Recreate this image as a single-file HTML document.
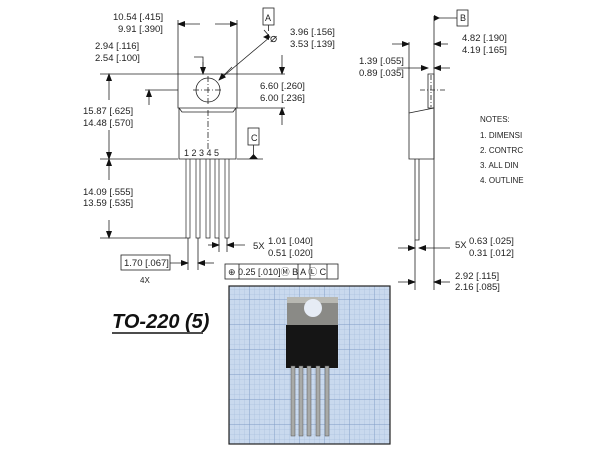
<!DOCTYPE html>
<html><head><style>
html,body{margin:0;padding:0;background:#fff}
svg{display:block}
text{font-family:"Liberation Sans",sans-serif;fill:#222}
</style></head><body>
<svg width="600" height="451" viewBox="0 0 600 451" xmlns="http://www.w3.org/2000/svg" font-size="9.5">
<defs>
<marker id="a" markerWidth="8" markerHeight="6" refX="7" refY="3" orient="auto" markerUnits="userSpaceOnUse"><path d="M0,0L8,3L0,6z" fill="#111"/></marker>
<pattern id="g" width="5" height="5" patternUnits="userSpaceOnUse"><path d="M5,0V5H0" fill="none" stroke="#9fb6d6" stroke-width="0.5"/></pattern>
<pattern id="G" width="25" height="25" patternUnits="userSpaceOnUse"><rect width="25" height="25" fill="url(#g)"/><path d="M25,0V25H0" fill="none" stroke="#7f9cc6" stroke-width="0.9"/></pattern>
</defs>
<g stroke="#222" stroke-width="0.8" fill="none">
<path d="M178,74H237V108H178Z"/>
<path d="M179,108L182,112H233L236,108M179,108V159H236V108"/>
<circle cx="208" cy="90" r="12"/>
<path d="M193,90H223M208,76V104M208,110V150" stroke-dasharray="6,2,1,2"/>
<g stroke-width="0.7">
<path d="M186,159V238H190V159M196,159V238H200V159M206,159V238H210V159M215,159V238H219V159M225,159V238H229V159"/>
</g>
<path d="M178,20V74M237,20V74"/>
<path d="M200,24H178" marker-end="url(#a)"/><path d="M215,24H237" marker-end="url(#a)"/>
<path d="M264,30L270,37L219,80" /><path d="M232,67L219,80" marker-end="url(#a)"/>
<path d="M194,57H203V72" /><path d="M203,62V74" marker-end="url(#a)"/>
<path d="M100,74H178M145,90H178M100,159H178M100,238H186M237,74H285M237,108H285M237,159H263"/>
<path d="M149,105V90" marker-end="url(#a)"/>
<path d="M109,100V74" marker-end="url(#a)"/><path d="M109,130V159" marker-end="url(#a)"/>
<path d="M109,180V159" marker-end="url(#a)"/><path d="M109,220V238" marker-end="url(#a)"/>
<path d="M282,55V74" marker-end="url(#a)"/><path d="M282,125V108" marker-end="url(#a)"/>
<path d="M188,238V270M198,238V270M219,238V252M227,238V252"/>
<path d="M208,245H219" marker-end="url(#a)"/><path d="M245,245H227" marker-end="url(#a)"/>
<path d="M170,263H188" marker-end="url(#a)"/><path d="M214,263H198" marker-end="url(#a)"/>
<rect x="121" y="255" width="49" height="15"/>
<rect x="263" y="8" width="11" height="17"/>
<path d="M268.5,25V31"/>
<rect x="248" y="128" width="11" height="17"/>
<path d="M253.5,145V155"/>
<rect x="225" y="264" width="113" height="15"/>
<path d="M239,264V279M298,264V279M310,264V279M327,264V279"/>
<path d="M428,74H434V108H428Z"/>
<path d="M409,113L434,108V159H409Z"/>
<path d="M415,159V240H419V159"/>
<path d="M420,90H445M431,75V107" stroke-dasharray="5,2,1,2"/>
<path d="M434,16V290M409,42V113M415,240V290M457,18H434"/>
<rect x="457" y="10" width="11" height="16"/>
<path d="M392,44H409" marker-end="url(#a)"/><path d="M448,44H434" marker-end="url(#a)"/>
<path d="M397,68H428" marker-end="url(#a)"/><path d="M450,68H434" marker-end="url(#a)"/>
<path d="M398,248H415" marker-end="url(#a)"/><path d="M450,248H419" marker-end="url(#a)"/>
<path d="M398,282H415" marker-end="url(#a)"/><path d="M450,282H434" marker-end="url(#a)"/>
</g>
<path d="M263,37l6,-3l0,6z M249,159l4.5,-5l4.5,5z M434,15l6,3l-6,3z" fill="#111"/>
<text x="113" y="20">10.54 [.415]</text><text x="118" y="32">9.91 [.390]</text>
<text x="95" y="49">2.94 [.116]</text><text x="95" y="61">2.54 [.100]</text>
<text x="265" y="21" font-size="9">A</text><text x="251" y="141" font-size="9">C</text>
<text x="270" y="42" font-size="12">⌀</text>
<text x="290" y="35">3.96 [.156]</text><text x="290" y="47">3.53 [.139]</text>
<text x="260" y="89">6.60 [.260]</text><text x="260" y="101">6.00 [.236]</text>
<text x="83" y="114">15.87 [.625]</text><text x="83" y="126">14.48 [.570]</text>
<text x="83" y="195">14.09 [.555]</text><text x="83" y="206">13.59 [.535]</text>
<text x="184" y="156" font-size="9">1  2  3  4  5</text>
<text x="253" y="249">5X</text>
<text x="268" y="244">1.01 [.040]</text><text x="268" y="256">0.51 [.020]</text>
<text x="124" y="266">1.70 [.067]</text><text x="140" y="283" font-size="8">4X</text>
<text x="228" y="275" font-size="9">⊕  0.25 [.010]Ⓜ B A Ⓛ C</text>
<text x="460" y="21" font-size="9">B</text>
<text x="462" y="41">4.82 [.190]</text><text x="462" y="53">4.19 [.165]</text>
<text x="359" y="64">1.39 [.055]</text><text x="359" y="76">0.89 [.035]</text>
<g font-size="8"><text x="480" y="122">NOTES:</text><text x="480" y="138">1.   DIMENSI</text><text x="480" y="153">2.   CONTRC</text><text x="480" y="168">3.   ALL DIN</text><text x="480" y="183">4.   OUTLINE</text></g>
<text x="455" y="248">5X</text><text x="469" y="244">0.63 [.025]</text><text x="469" y="256">0.31 [.012]</text>
<text x="455" y="279">2.92 [.115]</text><text x="455" y="290">2.16 [.085]</text>
<text x="112" y="328" font-size="20" font-weight="bold" font-style="italic" style="fill:#111">TO-220 (5)</text>
<path d="M112,333H203" stroke="#111" stroke-width="1.5"/>
<rect x="229" y="286" width="161" height="158" fill="#c9d9ee"/>
<rect x="229" y="286" width="161" height="158" fill="url(#G)"/>
<rect x="229" y="286" width="161" height="158" fill="none" stroke="#222" stroke-width="1.2"/>
<path d="M287,297H338V325H287Z" fill="#8a8a86"/>
<path d="M287,297H338V303H287Z" fill="#b8b8b2"/>
<circle cx="313" cy="308" r="9" fill="#e6ecf5"/>
<rect x="286" y="325" width="52" height="43" fill="#151515"/>
<g fill="#a8aaa8" stroke="#555" stroke-width="0.5">
<rect x="291" y="366" width="4" height="70"/><rect x="299" y="366" width="4" height="70"/><rect x="307" y="366" width="4" height="70"/><rect x="316" y="366" width="4" height="70"/><rect x="325" y="366" width="4" height="70"/>
</g>
</svg>
</body></html>
